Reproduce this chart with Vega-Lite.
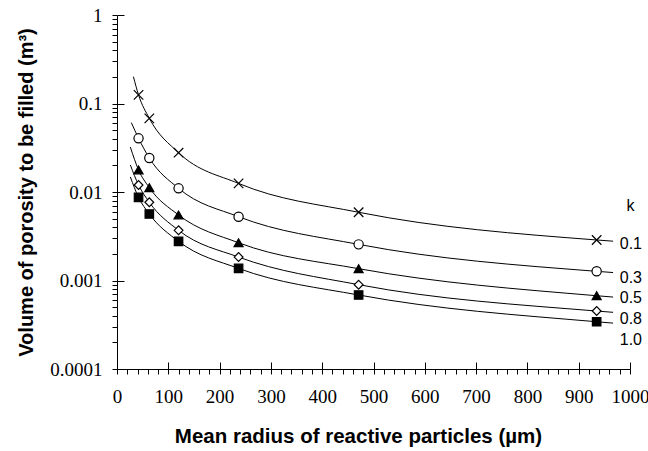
{
  "$schema": "https://vega.github.io/schema/vega-lite/v6.json",
  "width": 513,
  "height": 354,
  "autosize": {"type": "none"},
  "padding": {"left": 117, "top": 15, "right": 18, "bottom": 82},
  "background": "white",
  "config": {"view": {"stroke": null}, "axis": {"labelFont": "Liberation Serif, Times New Roman, serif"}},
  "datasets": {
    "curves": [
      {"k": "0.1", "r": 32, "v": 0.201}, {"k": "0.1", "r": 42, "v": 0.125}, {"k": "0.1", "r": 63, "v": 0.068}, {"k": "0.1", "r": 120, "v": 0.0278}, {"k": "0.1", "r": 237, "v": 0.0125}, {"k": "0.1", "r": 471, "v": 0.0059}, {"k": "0.1", "r": 935, "v": 0.00287}, {"k": "0.1", "r": 967, "v": 0.00278},
      {"k": "0.3", "r": 28, "v": 0.0607}, {"k": "0.3", "r": 42, "v": 0.0404}, {"k": "0.3", "r": 63, "v": 0.0242}, {"k": "0.3", "r": 120, "v": 0.011}, {"k": "0.3", "r": 237, "v": 0.00526}, {"k": "0.3", "r": 471, "v": 0.00256}, {"k": "0.3", "r": 935, "v": 0.00127}, {"k": "0.3", "r": 967, "v": 0.00123},
      {"k": "0.5", "r": 26, "v": 0.0322}, {"k": "0.5", "r": 42, "v": 0.01774}, {"k": "0.5", "r": 63, "v": 0.0112}, {"k": "0.5", "r": 120, "v": 0.0055}, {"k": "0.5", "r": 237, "v": 0.00267}, {"k": "0.5", "r": 471, "v": 0.00136}, {"k": "0.5", "r": 935, "v": 0.000673}, {"k": "0.5", "r": 967, "v": 0.00065},
      {"k": "0.8", "r": 26, "v": 0.0202}, {"k": "0.8", "r": 42, "v": 0.012}, {"k": "0.8", "r": 63, "v": 0.00765}, {"k": "0.8", "r": 120, "v": 0.00369}, {"k": "0.8", "r": 237, "v": 0.00184}, {"k": "0.8", "r": 471, "v": 0.000897}, {"k": "0.8", "r": 935, "v": 0.000452}, {"k": "0.8", "r": 967, "v": 0.000437},
      {"k": "1.0", "r": 26, "v": 0.0148}, {"k": "1.0", "r": 42, "v": 0.0087}, {"k": "1.0", "r": 63, "v": 0.00564}, {"k": "1.0", "r": 120, "v": 0.00277}, {"k": "1.0", "r": 237, "v": 0.00137}, {"k": "1.0", "r": 471, "v": 0.000686}, {"k": "1.0", "r": 935, "v": 0.000342}, {"k": "1.0", "r": 967, "v": 0.00033}
    ],
    "markers": [
      {"k": "0.1", "r": 42, "v": 0.125}, {"k": "0.1", "r": 63, "v": 0.068}, {"k": "0.1", "r": 120, "v": 0.0278}, {"k": "0.1", "r": 237, "v": 0.0125}, {"k": "0.1", "r": 471, "v": 0.0059}, {"k": "0.1", "r": 935, "v": 0.00287},
      {"k": "0.3", "r": 42, "v": 0.0404}, {"k": "0.3", "r": 63, "v": 0.0242}, {"k": "0.3", "r": 120, "v": 0.011}, {"k": "0.3", "r": 237, "v": 0.00526}, {"k": "0.3", "r": 471, "v": 0.00256}, {"k": "0.3", "r": 935, "v": 0.00127},
      {"k": "0.5", "r": 42, "v": 0.01774}, {"k": "0.5", "r": 63, "v": 0.0112}, {"k": "0.5", "r": 120, "v": 0.0055}, {"k": "0.5", "r": 237, "v": 0.00267}, {"k": "0.5", "r": 471, "v": 0.00136}, {"k": "0.5", "r": 935, "v": 0.000673},
      {"k": "0.8", "r": 42, "v": 0.012}, {"k": "0.8", "r": 63, "v": 0.00765}, {"k": "0.8", "r": 120, "v": 0.00369}, {"k": "0.8", "r": 237, "v": 0.00184}, {"k": "0.8", "r": 471, "v": 0.000897}, {"k": "0.8", "r": 935, "v": 0.000452},
      {"k": "1.0", "r": 42, "v": 0.0087}, {"k": "1.0", "r": 63, "v": 0.00564}, {"k": "1.0", "r": 120, "v": 0.00277}, {"k": "1.0", "r": 237, "v": 0.00137}, {"k": "1.0", "r": 471, "v": 0.000686}, {"k": "1.0", "r": 935, "v": 0.000342}
    ],
    "labels": [
      {"text": "k", "r": 993, "v": 0.0069},
      {"text": "0.1", "r": 980, "v": 0.00258},
      {"text": "0.3", "r": 980, "v": 0.00106},
      {"text": "0.5", "r": 980, "v": 0.00063},
      {"text": "0.8", "r": 980, "v": 0.000368},
      {"text": "1.0", "r": 980, "v": 0.000213}
    ]
  },
  "layer": [
    {
      "data": {"name": "curves"},
      "mark": {"type": "line", "interpolate": "monotone", "color": "black", "strokeWidth": 1},
      "encoding": {
        "x": {
          "field": "r", "type": "quantitative",
          "scale": {"domain": [0, 1000], "nice": false, "zero": false},
          "axis": {
            "orient": "bottom",
            "title": "Mean radius of reactive particles (µm)",
            "values": [0,20,40,60,80,100,120,140,160,180,200,220,240,260,280,300,320,340,360,380,400,420,440,460,480,500,520,540,560,580,600,620,640,660,680,700,720,740,760,780,800,820,840,860,880,900,920,940,960,980,1000],
            "format": "d",
            "labelExpr": "datum.value % 100 == 0 ? datum.label : ''",
            "grid": false,
            "domainColor": "black", "domainWidth": 1,
            "tickColor": "black", "tickWidth": 1, "tickSize": 5,
            "labelFont": "Liberation Serif, Times New Roman, serif", "labelFontSize": 19, "labelColor": "black",
            "labelPadding": 13, "labelFlush": false, "labelOverlap": false,
            "titleFont": "Liberation Sans", "titleFontSize": 20.5, "titleFontWeight": "bold", "titleColor": "black",
            "titleBaseline": "alphabetic", "titleAlign": "center", "titleX": 241, "titleY": 73
          }
        },
        "y": {
          "field": "v", "type": "quantitative",
          "scale": {"type": "log", "domain": [0.0001, 1], "nice": false},
          "axis": {
            "orient": "left",
            "title": "Volume of porosity to be filled (m³)",
            "values": [0.0001,0.0002,0.0003,0.0004,0.0005,0.0006,0.0007,0.0008,0.0009,0.001,0.002,0.003,0.004,0.005,0.006,0.007,0.008,0.009,0.01,0.02,0.03,0.04,0.05,0.06,0.07,0.08,0.09,0.1,0.2,0.3,0.4,0.5,0.6,0.7,0.8,0.9,1],
            "format": "~g",
            "labelExpr": "indexof([1,0.1,0.01,0.001,0.0001], datum.value) >= 0 ? datum.label : ''",
            "grid": false,
            "domainColor": "black", "domainWidth": 1,
            "tickColor": "black", "tickWidth": 1, "tickSize": 5,
            "labelFont": "Liberation Serif, Times New Roman, serif", "labelFontSize": 19, "labelColor": "black",
            "labelPadding": 10, "labelFlush": false, "labelOverlap": false,
            "titleFont": "Liberation Sans", "titleFontSize": 20, "titleFontWeight": "bold", "titleColor": "black",
            "titleBaseline": "alphabetic", "titleX": -85
          }
        },
        "detail": {"field": "k", "type": "nominal"}
      }
    },
    {
      "data": {"name": "markers"},
      "mark": {"type": "point", "filled": true, "stroke": "black", "strokeWidth": 1.2, "opacity": 1},
      "encoding": {
        "x": {
          "field": "r", "type": "quantitative",
          "axis": {
            "orient": "bottom", "offset": -7, "title": null,
            "values": [0,100,200,300,400,500,600,700,800,900,1000],
            "labels": false, "domain": false, "grid": false,
            "tickColor": "black", "tickWidth": 1, "tickSize": 7
          }
        },
        "y": {
          "field": "v", "type": "quantitative",
          "axis": {
            "orient": "left", "offset": -7, "title": null,
            "values": [0.0001, 0.001, 0.01, 0.1, 1],
            "labels": false, "domain": false, "grid": false,
            "tickColor": "black", "tickWidth": 1, "tickSize": 7
          }
        },
        "shape": {
          "field": "k", "type": "nominal",
          "scale": {"domain": ["0.1","0.3","0.5","0.8","1.0"], "range": ["M-1,-1L1,1M-1,1L1,-1", "circle", "triangle-up", "diamond", "square"]},
          "legend": null
        },
        "fill": {
          "field": "k", "type": "nominal",
          "scale": {"domain": ["0.1","0.3","0.5","0.8","1.0"], "range": ["black", "white", "black", "white", "black"]},
          "legend": null
        },
        "size": {
          "field": "k", "type": "nominal",
          "scale": {"domain": ["0.1","0.3","0.5","0.8","1.0"], "range": [90, 72, 70, 56, 78]},
          "legend": null
        }
      }
    },
    {
      "data": {"name": "labels"},
      "mark": {"type": "text", "align": "left", "baseline": "middle", "font": "Liberation Sans", "fontSize": 16, "color": "black"},
      "encoding": {
        "x": {"field": "r", "type": "quantitative", "axis": null},
        "y": {"field": "v", "type": "quantitative", "axis": null},
        "text": {"field": "text", "type": "nominal"}
      }
    }
  ],
  "resolve": {"axis": {"x": "independent", "y": "independent"}}
}
